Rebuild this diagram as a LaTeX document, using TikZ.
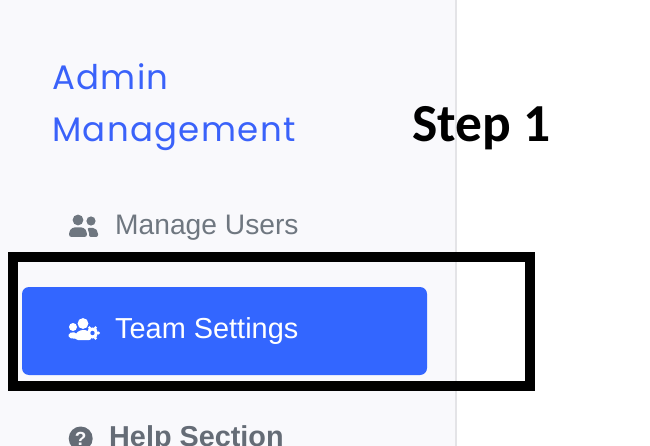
\documentclass[tikz,border=0pt]{standalone}
\usepackage{fontspec}
\setmainfont{Liberation Sans}
\newfontfamily\headfont{Poppins}
\newfontfamily\stepfont{Carlito}
\definecolor{sidebg}{HTML}{F9F9FC}
\definecolor{sideline}{HTML}{E4E4E7}
\definecolor{accent}{HTML}{3366FF}
\definecolor{headblue}{HTML}{3A62FA}
\definecolor{greytext}{HTML}{6F7780}
\definecolor{helptext}{HTML}{656C76}
\tikzset{
  menu/.style={anchor=base west,inner sep=0pt,font=\fontsize{28.2}{28.2}\selectfont},
  head/.style={anchor=base west,inner sep=0pt,text=headblue,font=\headfont\fontsize{34}{34}\selectfont},
}
\begin{document}
\begin{tikzpicture}[x=1pt,y=-1pt]
\useasboundingbox (0,0) rectangle (650,446);
\clip (0,0) rectangle (650,446);
\fill[white] (0,0) rectangle (650,446);
\fill[sidebg] (0,0) rectangle (455,446);
\fill[sideline] (455,0) rectangle (457,446);
\node[head] (admin) at (52,89.5) {\addfontfeature{LetterSpace=4}Admin};
\node[head] (mgmt) at (52,141.5) {\addfontfeature{LetterSpace=4}Management};
% Manage Users
\begin{scope}[greytext]
\fill (78,220) circle (5.4);
\fill (91,221) circle (4.6);
\fill[rounded corners=2.5] (69,237) -- (69,232) -- (72,227.5) -- (84,227.5) -- (87,232) -- (87,237) -- cycle;
\fill[rounded corners=2] (89,237) -- (89,231) -- (87,228) -- (95,228) -- (98,232) -- (98,237) -- cycle;
\end{scope}
\node[menu,text=greytext] (users) at (115,235) {Manage Users};
% Team Settings
\fill[accent,rounded corners=7] (22,287) rectangle (427,375) ;
\begin{scope}[white]
\fill (73,327) circle (4);
\fill (83,323.5) circle (5.4);
\fill[rounded corners=2] (68.5,338) -- (68.5,333) -- (76,332) -- (78,339) -- cycle;
\fill[rounded corners=3] (75,340) -- (75,334) -- (80,330) -- (88,330) -- (92,340) -- cycle;
\fill (92.5,333) circle (5.6);
\foreach \a in {0,60,...,300}{\fill (92.5,333) ++(\a:6) circle (1.6);}
\end{scope}
\fill[accent] (92.5,333) circle (2.2);
\node[menu,text=white,font=\fontsize{28.9}{28.9}\selectfont] (team) at (115,338) {Team Settings};
% Help Section
\fill[helptext] (80.7,438.5) circle (12);
\node[anchor=center,inner sep=0pt,text=sidebg,font=\bfseries\fontsize{19}{19}\selectfont] (q) at (80.7,438.5) {?};
\node[menu,text=helptext,font=\bfseries\fontsize{28.8}{28.8}\selectfont] (help) at (109,446) {Help Section};
% highlight frame
\draw[black,line width=10,line join=miter] (13,257) rectangle (530,386);
\node[anchor=base west,inner sep=0pt,text=black,font=\stepfont\bfseries\fontsize{53.5}{53.5}\selectfont] (step) at (412,142) {Step 1};
\end{tikzpicture}
\end{document}
